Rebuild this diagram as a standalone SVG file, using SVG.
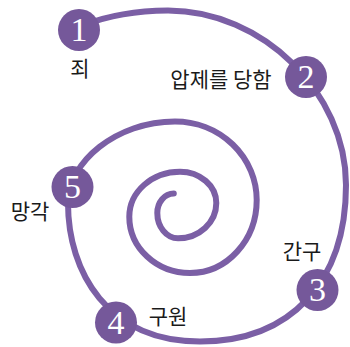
<svg xmlns="http://www.w3.org/2000/svg" width="350" height="347" viewBox="0 0 350 347">
<style>
.spiral{fill:none;stroke:#7b5fa5;stroke-width:6;stroke-linecap:round}
.dot{fill:#75589a}
.num{font-family:"Liberation Serif","DejaVu Serif",serif;font-size:34px;fill:#ffffff;text-anchor:middle}
.lbl{font-family:"Noto Sans CJK KR","Noto Sans",sans-serif;font-size:21px;fill:#1a1a1a;text-anchor:middle}
</style>
<rect width="350" height="347" fill="#ffffff"/>
<g id="connectors">
<path class="spiral" d="M 84,25 Q 120,11 168,10.5 C 262.3,10.5 346,92.5 346,185 C 346,282 290.5,341.5 200,341.5 C 107.6,341.5 68,272 68,203 C 68,162.25 116.2,121.5 175,121.5 A 81.7 78.5 0 0 1 256.7,200 A 66.7 73 0 0 1 190,273 A 60.7 56.3 0 0 1 129.3,216.7 A 50.7 45 0 0 1 180,171.7 A 36.3 31.3 0 0 1 216.3,203 A 38.3 35.3 0 0 1 178,238.3 A 20.7 25.3 0 0 1 157.3,213 A 16.5 19.5 0 0 1 173.8,193.5"/>
</g>
<g id="node1">
<circle class="dot" cx="79" cy="30" r="21"/>
<text class="num" x="79" y="41">1</text>
<text class="lbl" x="80" y="76">죄</text>
</g>
<g id="node2">
<circle class="dot" cx="306" cy="77" r="21"/>
<text class="num" x="306" y="88">2</text>
<text class="lbl" x="221" y="87">압제를 당함</text>
</g>
<g id="node3">
<circle class="dot" cx="317.5" cy="290" r="21"/>
<text class="num" x="317.5" y="301">3</text>
<text class="lbl" x="302" y="258.5">간구</text>
</g>
<g id="node4">
<circle class="dot" cx="116" cy="322.5" r="21"/>
<text class="num" x="116" y="333.5">4</text>
<text class="lbl" x="168" y="323.5">구원</text>
</g>
<g id="node5">
<circle class="dot" cx="72.5" cy="187" r="21"/>
<text class="num" x="72.5" y="198">5</text>
<text class="lbl" x="30" y="218.5">망각</text>
</g>
</svg>
